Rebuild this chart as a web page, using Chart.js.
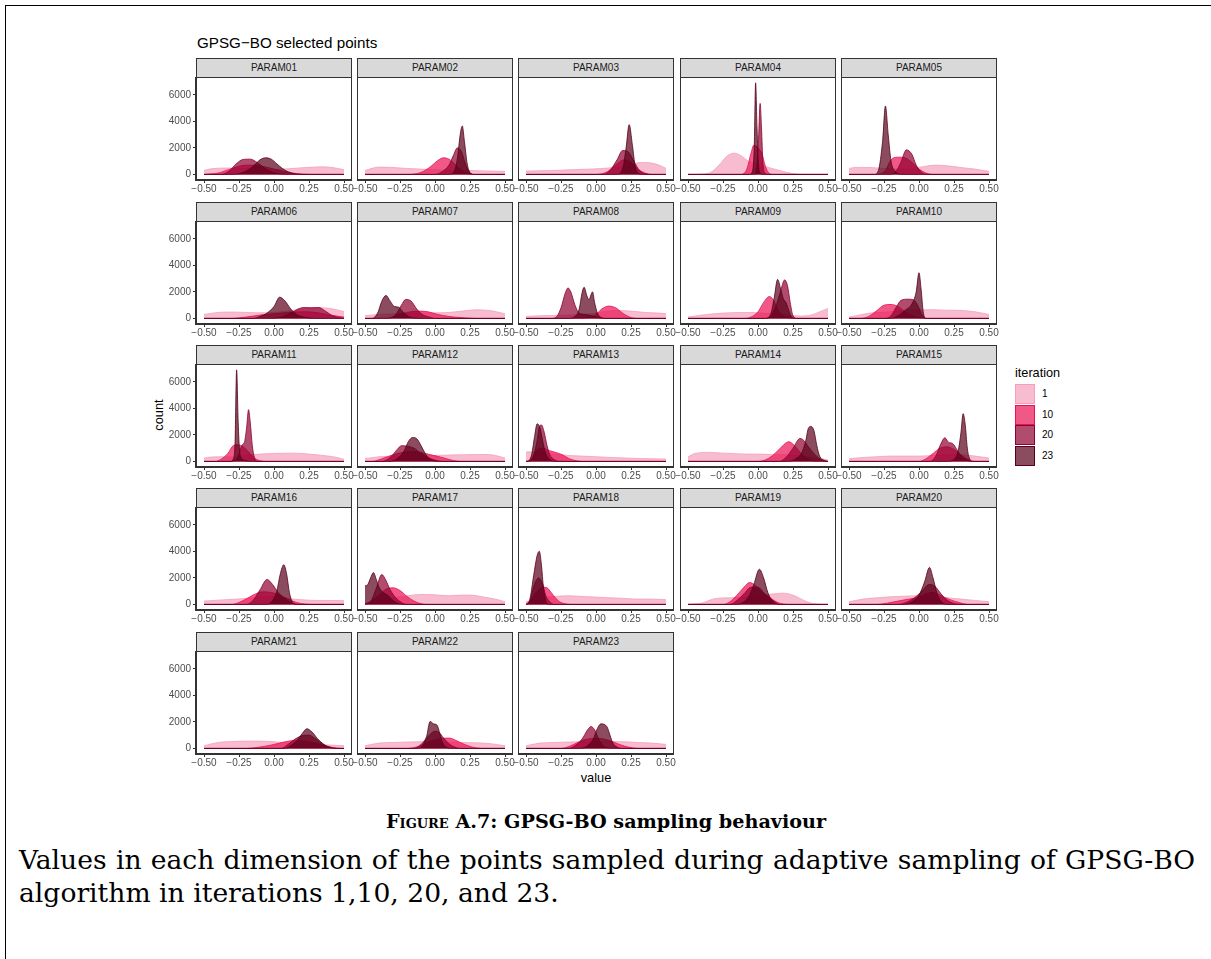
<!DOCTYPE html>
<html><head><meta charset="utf-8">
<script src="https://cdn.jsdelivr.net/npm/chart.js@4.4.0/dist/chart.umd.min.js"></script>
<style>
html,body{margin:0;padding:0;background:#fff;}
body{width:1211px;height:959px;position:relative;overflow:hidden;font-family:"Liberation Sans",Arial,sans-serif;}
.abs{position:absolute;white-space:nowrap;}
canvas{position:absolute;}
.strip{position:absolute;box-sizing:border-box;background:#d9d9d9;border:1px solid #333;font-size:10px;color:#1a1a1a;text-align:center;line-height:18px;}
.box{position:absolute;box-sizing:border-box;border:1px solid #333;border-bottom-width:2px;pointer-events:none;}
.key{position:absolute;box-sizing:border-box;width:20px;height:20px;border:1px solid;}
.klab{position:absolute;font-size:10px;color:#000;line-height:12px;}
.serif{font-family:"DejaVu Serif","Liberation Serif",serif;color:#000;}
</style></head><body>
<div class="abs" style="left:5px;top:5px;width:1300px;height:1000px;border-left:1px solid #000;border-top:1px solid #000;"></div>
<div class="abs" style="left:197px;top:33px;font-size:15.2px;line-height:20px;color:#000;">GPSG−BO selected points</div>
<div class="abs" style="left:158px;top:415px;font-size:12.8px;color:#000;transform:translate(-50%,-50%) rotate(-90deg);">count</div>
<div class="abs" style="left:596px;top:777px;font-size:12.8px;color:#000;transform:translate(-50%,-50%);">value</div>
<div id="legend"></div>
<div id="cap" class="abs serif" style="top:807px;height:30px;line-height:30px;font-weight:bold;font-size:20px;"><span style="font-variant:small-caps;">Figure</span> A.7: GPSG-BO sampling behaviour</div>
<div id="line1" class="serif" style="position:absolute;left:19px;top:845px;width:1176px;height:30px;line-height:30px;font-size:20px;text-align:justify;text-align-last:justify;white-space:nowrap;">Values in each dimension of the points sampled during adaptive sampling of GPSG-BO</div>
<div id="line2" class="abs serif" style="left:19px;top:878px;height:30px;line-height:30px;font-size:20px;">algorithm in iterations 1,10, 20, and 23.</div>
<script>
// ---------------- data ----------------
const iterations = ['1','10','20','23'];
const xTicks = [-0.5,-0.25,0,0.25,0.5];
const yTicks = [0,2000,4000,6000];
const panelNames = ['PARAM01','PARAM02','PARAM03','PARAM04','PARAM05','PARAM06','PARAM07','PARAM08','PARAM09','PARAM10',
  'PARAM11','PARAM12','PARAM13','PARAM14','PARAM15','PARAM16','PARAM17','PARAM18','PARAM19','PARAM20','PARAM21','PARAM22','PARAM23'];

// each curve: flat list of (value, count) pairs; order = iterations 1, 10, 20, 23
const PARAM01 = [
 [-0.5,300,-0.45,420,-0.35,480,-0.25,450,-0.15,400,0,380,0.1,420,0.2,500,0.3,560,0.35,570,0.42,520,0.5,350],
 [-0.5,0,-0.4,100,-0.3,450,-0.2,700,-0.1,650,0,400,0.1,150,0.2,30,0.3,0,0.5,0],
 [-0.5,0,-0.38,0,-0.32,250,-0.27,800,-0.22,1130,-0.17,1150,-0.12,900,-0.07,500,-0.02,200,0.05,30,0.1,0,0.5,0],
 [-0.5,0,-0.3,0,-0.22,150,-0.15,600,-0.1,1100,-0.06,1250,-0.02,1150,0.02,800,0.06,450,0.1,200,0.15,50,0.2,0,0.5,0]];
const PARAM02 = [
 [-0.5,300,-0.4,550,-0.3,520,-0.2,450,-0.1,400,0,350,0.1,300,0.2,300,0.3,280,0.4,250,0.5,230],
 [-0.5,0,-0.2,0,-0.1,150,-0.03,600,0.02,1050,0.06,1250,0.1,1150,0.14,800,0.18,400,0.22,100,0.27,0,0.5,0],
 [-0.5,0,0,0,0.05,200,0.1,700,0.13,1400,0.16,2000,0.19,1700,0.22,700,0.25,100,0.28,0,0.5,0],
 [-0.5,0,0.1,0,0.14,300,0.16,1200,0.18,3000,0.195,3650,0.21,2500,0.23,800,0.25,150,0.28,0,0.5,0]];
const PARAM03 = [
 [-0.5,250,-0.3,300,-0.1,380,0.05,450,0.15,550,0.25,750,0.32,900,0.38,880,0.45,700,0.5,450],
 [-0.5,0,0,0,0.08,200,0.15,800,0.2,1100,0.25,900,0.3,400,0.35,100,0.4,0,0.5,0],
 [-0.5,0,0.05,0,0.1,300,0.15,1100,0.19,1800,0.23,1700,0.27,1000,0.31,300,0.35,50,0.4,0,0.5,0],
 [-0.5,0,0.15,0,0.19,400,0.215,2000,0.237,3750,0.26,2200,0.28,600,0.3,100,0.33,0,0.5,0]];
const PARAM04 = [
 [-0.5,0,-0.4,20,-0.33,200,-0.27,800,-0.22,1400,-0.17,1600,-0.12,1400,-0.07,1000,-0.02,800,0.03,650,0.1,450,0.17,250,0.25,60,0.32,0,0.5,0],
 [-0.5,0,-0.12,0,-0.08,400,-0.05,1600,-0.03,2200,0,2000,0.03,1500,0.05,700,0.07,200,0.1,0,0.5,0],
 [-0.5,0,-0.03,0,-0.01,500,0.005,3000,0.015,5350,0.025,3500,0.035,900,0.05,100,0.07,0,0.5,0],
 [-0.5,0,-0.06,0,-0.04,200,-0.027,2000,-0.017,6900,-0.007,3500,0.003,800,0.015,100,0.03,0,0.5,0]];
const PARAM05 = [
 [-0.5,450,-0.45,530,-0.35,520,-0.25,450,-0.15,400,-0.05,450,0.05,620,0.12,700,0.2,650,0.3,520,0.4,400,0.5,230],
 [-0.5,0,-0.3,0,-0.24,300,-0.2,1100,-0.15,1300,-0.1,1250,-0.05,900,0,400,0.05,100,0.1,0,0.5,0],
 [-0.5,0,-0.2,0,-0.16,300,-0.13,900,-0.09,1850,-0.05,1500,-0.02,700,0.02,150,0.06,0,0.5,0],
 [-0.5,0,-0.32,0,-0.29,300,-0.26,2500,-0.24,5150,-0.22,3000,-0.2,1000,-0.17,250,-0.13,0,0.5,0]];
const PARAM06 = [
 [-0.5,300,-0.4,450,-0.3,480,-0.2,450,-0.1,420,0,450,0.1,550,0.2,700,0.3,820,0.4,750,0.5,520],
 [-0.5,0,-0.3,0,-0.2,100,-0.1,250,0,350,0.1,450,0.2,500,0.3,450,0.4,250,0.5,100],
 [-0.5,0,-0.05,0,0.05,100,0.12,400,0.18,750,0.22,820,0.27,800,0.32,820,0.36,600,0.42,200,0.48,30,0.5,0],
 [-0.5,0,-0.15,0,-0.1,150,-0.05,400,0,900,0.04,1600,0.08,1300,0.12,700,0.16,300,0.22,80,0.3,0,0.5,0]];
const PARAM07 = [
 [-0.5,200,-0.4,300,-0.25,350,-0.1,400,0,420,0.1,450,0.2,560,0.3,650,0.4,580,0.5,350],
 [-0.5,0,-0.35,0,-0.28,200,-0.2,450,-0.12,550,-0.05,500,0.02,300,0.1,150,0.2,50,0.3,0,0.5,0],
 [-0.5,0,-0.33,0,-0.28,300,-0.24,1000,-0.21,1430,-0.17,1300,-0.13,700,-0.09,300,-0.04,100,0,0,0.5,0],
 [-0.5,0,-0.45,0,-0.41,400,-0.38,1300,-0.35,1730,-0.32,1300,-0.29,900,-0.26,850,-0.23,500,-0.19,150,-0.15,30,-0.1,0,0.5,0]];
const PARAM08 = [
 [-0.5,150,-0.4,200,-0.3,220,-0.2,250,-0.1,300,0,400,0.05,500,0.15,600,0.25,550,0.35,450,0.45,400,0.5,350],
 [-0.5,0,-0.1,0,-0.05,100,0,300,0.04,700,0.09,930,0.14,800,0.19,400,0.24,100,0.3,0,0.5,0],
 [-0.5,0,-0.32,0,-0.28,150,-0.25,800,-0.22,1900,-0.2,2300,-0.18,2000,-0.15,1000,-0.12,400,-0.08,300,-0.03,200,0.02,50,0.06,0,0.5,0],
 [-0.5,0,-0.2,0,-0.15,150,-0.12,700,-0.1,1900,-0.085,2350,-0.065,1700,-0.05,1400,-0.035,1800,-0.025,2000,-0.01,1200,0.01,400,0.04,50,0.07,0,0.5,0]];
const PARAM09 = [
 [-0.5,100,-0.4,250,-0.25,400,-0.1,450,0,420,0.1,350,0.2,250,0.3,180,0.38,250,0.44,500,0.5,750],
 [-0.5,0,-0.1,0,-0.05,100,0,500,0.04,1200,0.08,1650,0.11,1400,0.14,700,0.18,200,0.22,30,0.26,0,0.5,0],
 [-0.5,0,0.05,0,0.1,300,0.13,1000,0.16,2000,0.19,2900,0.21,2500,0.23,1200,0.25,200,0.28,0,0.5,0],
 [-0.5,0,0.05,0,0.09,300,0.115,1500,0.14,2940,0.16,2300,0.18,1500,0.2,1200,0.22,600,0.24,100,0.27,0,0.5,0]];
const PARAM10 = [
 [-0.5,100,-0.45,200,-0.35,400,-0.2,500,-0.1,600,0,650,0.1,650,0.2,620,0.3,600,0.4,500,0.5,300],
 [-0.5,0,-0.42,0,-0.36,150,-0.3,600,-0.25,1000,-0.2,1050,-0.15,900,-0.1,500,-0.05,200,0,50,0.05,0,0.5,0],
 [-0.5,0,-0.25,0,-0.2,200,-0.16,900,-0.13,1350,-0.08,1450,-0.04,1400,-0.01,1000,0.02,300,0.05,0,0.5,0],
 [-0.5,0,-0.2,0,-0.15,200,-0.1,600,-0.05,1100,-0.02,2000,0,3440,0.015,2200,0.03,500,0.05,0,0.5,0]];
const PARAM11 = [
 [-0.5,250,-0.45,330,-0.35,350,-0.3,330,-0.2,450,-0.1,550,0,600,0.1,620,0.2,600,0.25,550,0.35,450,0.45,300,0.5,150],
 [-0.5,0,-0.42,0,-0.38,150,-0.33,600,-0.29,1200,-0.26,1250,-0.22,1100,-0.18,700,-0.14,250,-0.1,50,-0.05,0,0.5,0],
 [-0.5,0,-0.3,0,-0.26,300,-0.23,1200,-0.21,1500,-0.195,2600,-0.182,3900,-0.17,3000,-0.155,1200,-0.14,300,-0.12,0,0.5,0],
 [-0.5,0,-0.31,0,-0.29,200,-0.278,1500,-0.267,6900,-0.256,3000,-0.245,700,-0.23,200,-0.2,50,-0.17,0,0.5,0]];
const PARAM12 = [
 [-0.5,200,-0.4,350,-0.3,380,-0.2,350,-0.1,400,0,450,0.1,480,0.2,500,0.3,520,0.38,520,0.45,400,0.5,250],
 [-0.5,0,-0.45,0,-0.38,200,-0.3,500,-0.22,700,-0.15,750,-0.05,550,0.05,300,0.1,150,0.15,30,0.2,0,0.5,0],
 [-0.5,0,-0.38,0,-0.32,300,-0.27,900,-0.24,1180,-0.2,1150,-0.15,1000,-0.1,600,-0.05,300,0,100,0.05,0,0.5,0],
 [-0.5,0,-0.32,0,-0.27,200,-0.22,800,-0.19,1500,-0.16,1800,-0.13,1700,-0.1,1200,-0.07,600,-0.04,200,0,30,0.03,0,0.5,0]];
const PARAM13 = [
 [-0.5,700,-0.45,720,-0.38,650,-0.3,550,-0.2,450,-0.1,400,0,350,0.1,300,0.2,260,0.3,220,0.4,200,0.5,180],
 [-0.5,0,-0.46,200,-0.42,900,-0.38,1000,-0.33,800,-0.28,650,-0.24,500,-0.19,200,-0.14,50,-0.1,0,0.5,0],
 [-0.5,0,-0.48,0,-0.45,300,-0.42,1600,-0.405,2600,-0.39,2750,-0.37,2200,-0.35,1200,-0.33,500,-0.3,150,-0.26,0,0.5,0],
 [-0.5,0,-0.49,0,-0.46,500,-0.44,1800,-0.42,2840,-0.4,2500,-0.38,1500,-0.36,600,-0.33,150,-0.3,0,0.5,0]];
const PARAM14 = [
 [-0.5,350,-0.45,600,-0.35,680,-0.25,620,-0.1,560,0,550,0.1,530,0.2,500,0.3,400,0.4,250,0.48,150,0.5,100],
 [-0.5,0,0,0,0.05,100,0.1,400,0.15,900,0.22,1480,0.26,1200,0.3,700,0.34,300,0.38,80,0.42,0,0.5,0],
 [-0.5,0,0.15,0,0.2,300,0.25,1000,0.3,1730,0.33,1550,0.36,1100,0.4,600,0.44,200,0.48,0,0.5,0],
 [-0.5,0,0.22,0,0.27,200,0.31,600,0.34,1500,0.36,2500,0.38,2640,0.4,2300,0.42,1200,0.44,400,0.47,100,0.5,0]];
const PARAM15 = [
 [-0.5,200,-0.4,300,-0.3,350,-0.2,400,-0.1,400,0,400,0.1,450,0.2,500,0.3,500,0.4,400,0.5,250],
 [-0.5,0,0,0,0.05,200,0.1,600,0.15,1000,0.2,1100,0.25,900,0.3,500,0.35,150,0.4,0,0.5,0],
 [-0.5,0,0.08,0,0.12,400,0.155,1300,0.185,1780,0.21,1450,0.24,1350,0.27,900,0.3,400,0.34,100,0.38,0,0.5,0],
 [-0.5,0,0.2,0,0.25,150,0.28,800,0.3,2200,0.315,3600,0.33,2800,0.345,1000,0.36,250,0.38,0,0.5,0]];
const PARAM16 = [
 [-0.5,250,-0.4,320,-0.3,380,-0.2,450,-0.1,550,0,600,0.05,550,0.1,450,0.2,350,0.3,300,0.4,300,0.5,280],
 [-0.5,0,-0.3,0,-0.25,150,-0.2,400,-0.15,700,-0.08,950,-0.02,900,0.04,700,0.1,400,0.16,150,0.22,30,0.28,0,0.5,0],
 [-0.5,0,-0.2,0,-0.15,300,-0.1,1100,-0.05,1880,-0.01,1500,0.03,900,0.07,500,0.12,150,0.18,0,0.5,0],
 [-0.5,0,-0.05,0,-0.01,300,0.02,1000,0.045,2300,0.07,2990,0.09,2300,0.11,900,0.13,200,0.16,0,0.5,0]];
const PARAM17 = [
 [-0.5,100,-0.4,300,-0.3,500,-0.2,650,-0.1,750,0,720,0.1,650,0.2,700,0.25,700,0.35,550,0.45,350,0.5,200],
 [-0.5,0,-0.45,300,-0.4,700,-0.35,1150,-0.3,1250,-0.25,1050,-0.2,600,-0.15,250,-0.1,50,-0.05,0,0.5,0],
 [-0.5,0,-0.46,200,-0.42,1200,-0.38,2250,-0.35,1800,-0.32,1100,-0.28,500,-0.24,150,-0.2,0,0.5,0],
 [-0.5,1400,-0.48,1500,-0.46,2000,-0.44,2400,-0.42,1900,-0.4,1300,-0.37,900,-0.34,700,-0.3,300,-0.26,50,-0.22,0,0.5,0]];
const PARAM18 = [
 [-0.5,200,-0.4,500,-0.3,600,-0.2,650,-0.1,600,0,550,0.1,500,0.2,450,0.3,400,0.4,400,0.5,350],
 [-0.5,0,-0.46,400,-0.42,1000,-0.38,1300,-0.35,1250,-0.32,900,-0.29,500,-0.26,200,-0.22,50,-0.18,0,0.5,0],
 [-0.5,0,-0.47,300,-0.44,1500,-0.41,2000,-0.38,1500,-0.36,700,-0.33,200,-0.3,0,0.5,0],
 [-0.5,0,-0.49,0,-0.47,500,-0.445,2200,-0.42,3700,-0.405,4000,-0.39,3000,-0.375,1200,-0.36,300,-0.34,0,0.5,0]];
const PARAM19 = [
 [-0.5,20,-0.4,100,-0.35,300,-0.3,450,-0.2,500,-0.1,550,0,650,0.1,780,0.18,850,0.25,700,0.3,450,0.35,200,0.4,50,0.5,0],
 [-0.5,0,-0.25,0,-0.2,200,-0.15,700,-0.1,1300,-0.06,1650,-0.02,1450,0.02,1000,0.06,700,0.1,400,0.14,150,0.18,30,0.22,0,0.5,0],
 [-0.5,0,-0.2,0,-0.15,300,-0.1,800,-0.05,1300,0,1300,0.04,900,0.08,500,0.12,200,0.16,0,0.5,0],
 [-0.5,0,-0.15,0,-0.1,200,-0.06,700,-0.03,1500,0.01,2650,0.04,2000,0.07,900,0.1,300,0.14,0,0.5,0]];
const PARAM20 = [
 [-0.5,200,-0.4,400,-0.3,500,-0.2,580,-0.1,620,0,650,0.1,600,0.2,500,0.3,400,0.4,300,0.5,200],
 [-0.5,0,-0.3,0,-0.2,150,-0.1,350,0,550,0.05,800,0.1,900,0.15,700,0.2,450,0.25,250,0.3,100,0.35,0,0.5,0],
 [-0.5,0,-0.15,0,-0.08,200,-0.02,600,0.03,1100,0.07,1500,0.11,1400,0.15,900,0.19,400,0.24,100,0.3,0,0.5,0],
 [-0.5,0,-0.1,0,-0.05,200,0,700,0.04,1700,0.075,2790,0.1,2000,0.13,800,0.16,200,0.2,0,0.5,0]];
const PARAM21 = [
 [-0.5,200,-0.4,450,-0.3,520,-0.2,550,-0.1,550,0,500,0.1,400,0.2,350,0.3,300,0.4,250,0.5,200],
 [-0.5,0,-0.2,0,-0.1,100,0,300,0.08,500,0.15,600,0.22,550,0.3,400,0.36,200,0.42,60,0.48,0,0.5,0],
 [-0.5,0,0.05,0,0.1,300,0.15,700,0.2,950,0.25,1000,0.3,700,0.35,300,0.4,100,0.45,0,0.5,0],
 [-0.5,0,0.08,0,0.12,200,0.16,550,0.2,1100,0.235,1480,0.27,1250,0.31,750,0.35,350,0.39,100,0.43,0,0.5,0]];
const PARAM22 = [
 [-0.5,200,-0.4,400,-0.3,450,-0.2,480,-0.1,500,0,500,0.1,480,0.2,450,0.3,420,0.4,350,0.5,200],
 [-0.5,0,-0.2,0,-0.12,150,-0.05,450,0,650,0.05,750,0.1,780,0.15,600,0.2,350,0.25,150,0.3,30,0.35,0,0.5,0],
 [-0.5,0,-0.15,0,-0.1,300,-0.05,900,0,1300,0.03,1200,0.06,800,0.1,350,0.14,100,0.18,0,0.5,0],
 [-0.5,0,-0.12,0,-0.09,200,-0.06,900,-0.035,2030,-0.01,1850,0.015,1750,0.035,1100,0.055,400,0.08,100,0.11,0,0.5,0]];
const PARAM23 = [
 [-0.5,200,-0.4,400,-0.3,450,-0.2,480,-0.1,500,0,520,0.1,520,0.2,500,0.3,450,0.4,400,0.5,300],
 [-0.5,0,-0.25,0,-0.18,200,-0.12,500,-0.06,700,0,750,0.06,700,0.12,500,0.18,250,0.24,80,0.3,0,0.5,0],
 [-0.5,0,-0.2,0,-0.15,200,-0.1,700,-0.06,1400,-0.035,1650,-0.01,1400,0.02,700,0.05,200,0.08,50,0.11,0,0.5,0],
 [-0.5,0,-0.12,0,-0.06,200,-0.02,700,0.01,1500,0.035,1850,0.06,1800,0.08,1600,0.1,1000,0.12,400,0.15,100,0.18,0,0.5,0]];

const panelData = [PARAM01,PARAM02,PARAM03,PARAM04,PARAM05,PARAM06,PARAM07,PARAM08,PARAM09,PARAM10,PARAM11,PARAM12,
  PARAM13,PARAM14,PARAM15,PARAM16,PARAM17,PARAM18,PARAM19,PARAM20,PARAM21,PARAM22,PARAM23];

// ---------------- styles ----------------
const BASE = [[245,159,188],[233,19,84],[142,0,48],[88,0,25]];
const FILL = BASE.map(c=>`rgba(${c[0]},${c[1]},${c[2]},0.7)`);
const LINE = BASE.map(c=>`rgb(${c[0]},${c[1]},${c[2]})`);
const COL_LEFT=[197,358,519,681,842];
const ROW_TOP=[58,202,345,488,632];
const PW=154, PH=101, SH=20;
const L=45, R=24, T=12, B=24;
const FONT_FAMILY='"Liberation Sans", Arial, sans-serif';

function toPoints(flat){const out=[];for(let j=0;j<flat.length;j+=2)out.push({x:flat[j],y:flat[j+1]});return out;}
function fmtX(v){return (v<0?'\u2212':'')+Math.abs(v).toFixed(2);}

panelNames.forEach((name,i)=>{
  const c=i%5, r=Math.floor(i/5);
  const left=COL_LEFT[c], stripTop=ROW_TOP[r], plotTop=stripTop+SH;
  const cv=document.createElement('canvas');
  cv.width=L+PW+R; cv.height=T+PH+B;
  cv.style.left=(left-L)+'px'; cv.style.top=(plotTop-T)+'px';
  cv.style.width=cv.width+'px'; cv.style.height=cv.height+'px';
  document.body.appendChild(cv);

  const box=document.createElement('div');
  box.className='box';
  box.style.left=(left-1)+'px'; box.style.top=(plotTop-1)+'px';
  box.style.width=(PW+2)+'px'; box.style.height=(PH+3)+'px';
  if(c===0){ box.style.borderLeftWidth='2px'; box.style.left=(left-2)+'px'; box.style.width=(PW+3)+'px'; }
  document.body.appendChild(box);

  const st=document.createElement('div');
  st.className='strip';
  st.style.left=(left-1)+'px'; st.style.top=stripTop+'px';
  st.style.width=(PW+2)+'px'; st.style.height=(SH)+'px';
  st.textContent=name;
  document.body.appendChild(st);

  new Chart(cv,{
    type:'line',
    data:{datasets:panelData[i].map((flat,k)=>({
      label:iterations[k], data:toPoints(flat), fill:'origin',
      backgroundColor:FILL[k], borderColor:LINE[k], borderWidth:0.8,
      pointRadius:0, cubicInterpolationMode:'monotone', order:4-k
    }))},
    options:{
      responsive:false, animation:false, devicePixelRatio:1, events:[],
      layout:{padding:{left:0,right:R,top:T,bottom:0}},
      plugins:{legend:{display:false},tooltip:{enabled:false}},
      scales:{
        x:{type:'linear',min:-0.55,max:0.55,bounds:'data',
          afterBuildTicks:s=>{s.ticks=xTicks.map(v=>({value:v}));},
          afterFit:s=>{s.height=B;},
          ticks:{autoSkip:false,maxRotation:0,minRotation:0,padding:0,color:'#4d4d4d',
            font:{family:FONT_FAMILY,size:10},callback:v=>fmtX(v)},
          grid:{drawOnChartArea:false,drawTicks:true,tickLength:4,color:'#333',lineWidth:1},
          border:{display:false}},
        y:{type:'linear',min:-346,max:7266,bounds:'data',
          afterBuildTicks:s=>{s.ticks=yTicks.map(v=>({value:v}));},
          afterFit:s=>{s.width=L;},
          ticks:{display:c===0,padding:2,color:'#4d4d4d',font:{family:FONT_FAMILY,size:10},callback:v=>String(v)},
          grid:{display:c===0,drawOnChartArea:false,drawTicks:true,tickLength:4,color:'#333',lineWidth:1},
          border:{display:false}}
      }
    }
  });
});

// ---------------- legend ----------------
(function(){
  const lg=document.getElementById('legend');
  const t=document.createElement('div');
  t.className='abs'; t.style.left='1015px'; t.style.top='365px'; t.style.fontSize='12.7px'; t.style.lineHeight='16px'; t.style.color='#000';
  t.textContent='iteration'; lg.appendChild(t);
  const tops=[384,404.5,425,445.5];
  iterations.forEach((it,k)=>{
    const kd=document.createElement('div');
    kd.className='key'; kd.style.left='1015px'; kd.style.top=tops[k]+'px';
    kd.style.background=FILL[k]; kd.style.borderColor=LINE[k];
    lg.appendChild(kd);
    const lb=document.createElement('div');
    lb.className='klab abs'; lb.style.left='1042px'; lb.style.top=(tops[k]+4)+'px';
    lb.textContent=it; lg.appendChild(lb);
  });
})();

// ---------------- caption fitting ----------------
(function(){
  const cap=document.getElementById('cap');
  let w=cap.getBoundingClientRect().width;
  let fs=20*442/w; cap.style.fontSize=fs+'px';
  w=cap.getBoundingClientRect().width;
  cap.style.left=(606-w/2)+'px';
  const l2=document.getElementById('line2');
  const w2=l2.getBoundingClientRect().width;
  const fs2=20*540/w2;
  l2.style.fontSize=fs2+'px';
  document.getElementById('line1').style.fontSize=fs2+'px';
})();
</script>
</body></html>
